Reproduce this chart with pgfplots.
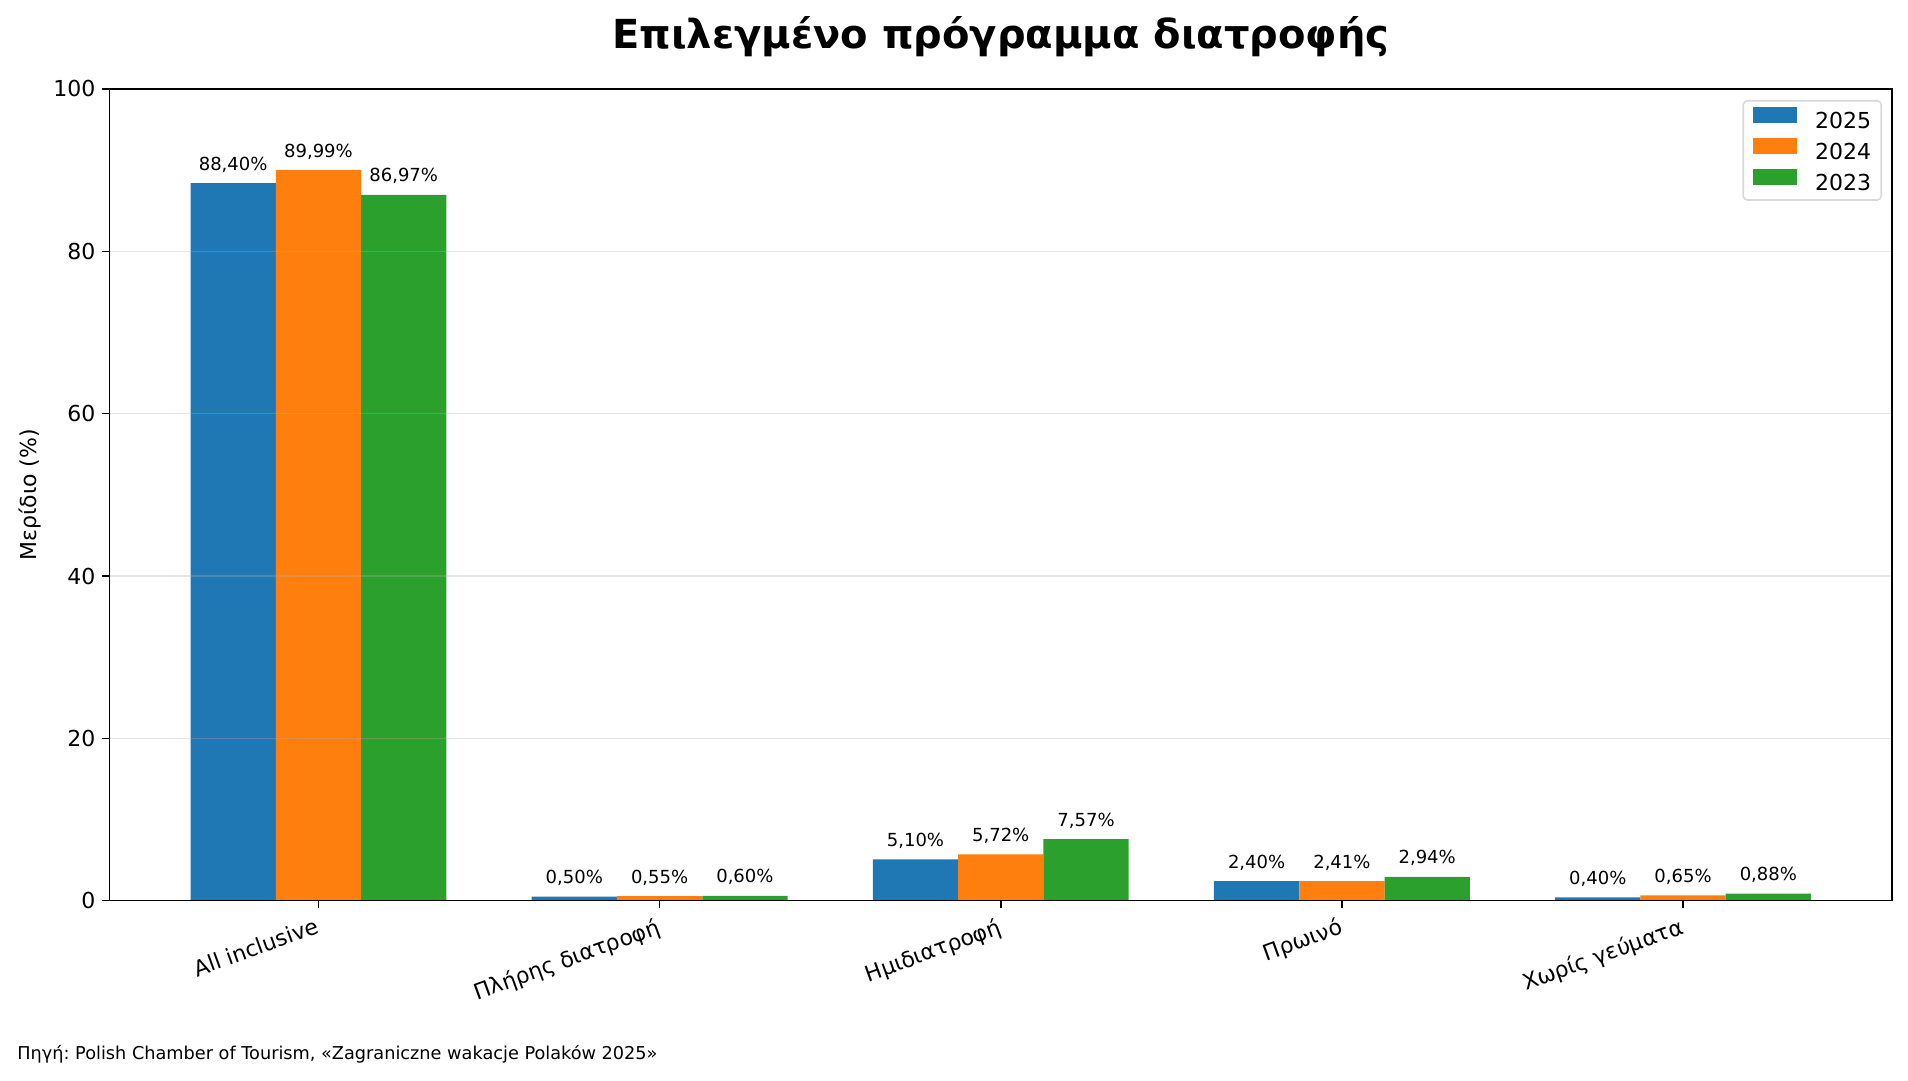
\documentclass[border=0pt]{standalone}
\usepackage{fontspec}
\setmainfont{DejaVu Sans}
\usepackage{pgfplots}
\pgfplotsset{compat=1.18}
\definecolor{c1}{HTML}{1F77B4}
\definecolor{c2}{HTML}{FF7F0E}
\definecolor{c3}{HTML}{2CA02C}
\definecolor{gridc}{HTML}{B0B0B0}
\frenchspacing
\begin{document}
\begin{tikzpicture}
\useasboundingbox (0,0) rectangle (954pt,540.5pt);
\begin{axis}[
  at={(54.75pt,90.15pt)}, anchor=south west,
  scale only axis, width=891.25pt, height=405.85pt,
  xmin=-0.6125, xmax=4.6125, ymin=0, ymax=100,
  xtick={0,1,2,3,4},
  xticklabels={All inclusive, Πλήρης διατροφή, Ημιδιατροφή, Πρωινό, Χωρίς γεύματα},
  ytick={0,20,40,60,80,100},
  /pgf/number format/assume math mode=true,
  tick align=outside, xtick pos=left, ytick pos=left,
  major tick length=3.5pt,
  every tick/.style={black, line width=0.8pt},
  axis line style={line width=0.8pt, black},
  ymajorgrids, grid style={color=gridc, opacity=0.3, line width=0.8pt},
  axis on top,
  ticklabel style={font=\fontsize{11}{13}\selectfont},
  xticklabel style={rotate=20, anchor=north east, font=\fontsize{11}{13}\selectfont},
  ylabel={Μερίδιο (\%)},
  ylabel style={font=\fontsize{11}{13}\selectfont, at={(axis description cs:-0.0446,0.5)}, anchor=center},
  nodes near coords={\pgfmathprintnumber[fixed,fixed zerofill,precision=2,use comma]{\pgfplotspointmeta}\%},
  every node near coord/.append style={font=\fontsize{9}{11}\selectfont, anchor=base, inner sep=0pt, yshift=6.5pt, black},
  legend style={at={(1,1)}, anchor=north east, xshift=-5pt, yshift=-5.5pt,
    draw=black!15, rounded corners=2pt, line width=0.8pt,
    font=\fontsize{11}{13}\selectfont, inner xsep=5pt, inner ysep=3pt,
    nodes={inner sep=0pt}, row sep=3pt, column sep=9pt},
  legend cell align=left,
]
\addplot[ybar, bar width=0.25, bar shift=0, fill=c1, draw=none,
  legend image code/.code={\fill[fill=c1, sharp corners] (0pt,-0.3pt) rectangle (22pt,7.7pt);}]
  coordinates {(-0.25,88.40) (0.75,0.50) (1.75,5.10) (2.75,2.40) (3.75,0.40)};
\addlegendentry{2025}
\addplot[ybar, bar width=0.25, bar shift=0, fill=c2, draw=none,
  legend image code/.code={\fill[fill=c2, sharp corners] (0pt,-0.3pt) rectangle (22pt,7.7pt);}]
  coordinates {(0,89.99) (1,0.55) (2,5.72) (3,2.41) (4,0.65)};
\addlegendentry{2024}
\addplot[ybar, bar width=0.25, bar shift=0, fill=c3, draw=none,
  legend image code/.code={\fill[fill=c3, sharp corners] (0pt,-0.3pt) rectangle (22pt,7.7pt);}]
  coordinates {(0.25,86.97) (1.25,0.60) (2.25,7.57) (3.25,2.94) (4.25,0.88)};
\addlegendentry{2023}
\end{axis}
\node[anchor=base, font=\fontsize{20}{24}\selectfont\bfseries] at (500.4pt,516.2pt) {Επιλεγμένο πρόγραμμα διατροφής};
\node[anchor=base west, font=\fontsize{8.85}{11}\selectfont, inner sep=0pt] at (8.5pt,10.5pt) {Πηγή: Polish Chamber of Tourism, «Zagraniczne wakacje Polaków 2025»};
\end{tikzpicture}
\end{document}
